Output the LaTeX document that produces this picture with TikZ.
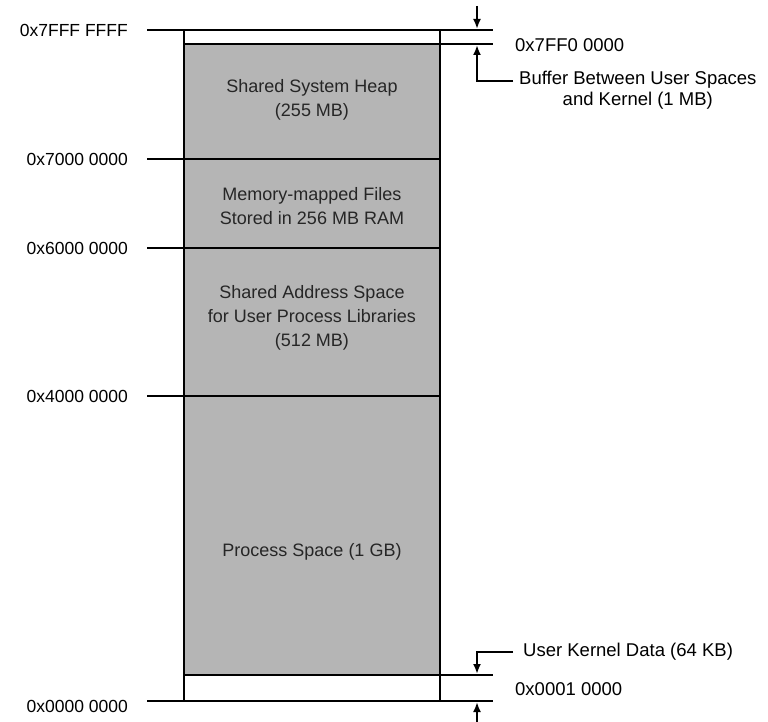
\documentclass[tikz,border=0pt]{standalone}
\usepackage{fontspec}
\setmainfont{Liberation Sans}
\usetikzlibrary{arrows.meta}
\begin{document}
\begin{tikzpicture}[x=1pt,y=-1pt,
  rule/.style={line width=2.4pt},
  lbl/.style={font=\fontsize{17.5}{21}\selectfont, inner sep=0pt},
  rlbl/.style={font=\fontsize{18.5}{21}\selectfont, inner sep=0pt},
  inlbl/.style={font=\fontsize{18}{24}\selectfont, align=center, text=black!85, inner sep=0pt},
  pointer/.style={line width=2pt, -{Latex[length=10pt,width=8pt]}}]
\useasboundingbox (0,0) rectangle (768,722);
% box fill
\fill[gray!58] (184,44) rectangle (440,675);
\draw[rule] (184,30) -- (184,701);
\draw[rule] (440,30) -- (440,701);
% horizontal rules
\draw[rule] (147,30) -- (493,30);
\draw[rule] (184,44) -- (493,44);
\draw[rule] (147,159) -- (440,159);
\draw[rule] (147,248) -- (440,248);
\draw[rule] (147,396) -- (440,396);
\draw[rule] (184,675) -- (493,675);
\draw[rule] (147,701) -- (493,701);
% left labels
\node[lbl, anchor=east] (a7fff) at (128,30) {0x7FFF FFFF};
\node[lbl, anchor=east] (a7000) at (128,159) {0x7000 0000};
\node[lbl, anchor=east] (a6000) at (128,248) {0x6000 0000};
\node[lbl, anchor=east] (a4000) at (128,396) {0x4000 0000};
\node[lbl, anchor=east] (a0000) at (128,706) {0x0000 0000};
% right labels
\node[rlbl, anchor=west] (a7ff0) at (515,45) {0x7FF0 0000};
\node[rlbl, anchor=west] (a0001) at (515,689) {0x0001 0000};
\node[rlbl, anchor=north west, align=center] (buf) at (519,71) {Buffer Between User Spaces\\and Kernel (1 MB)};
\node[rlbl, anchor=west] (ukd) at (523,652) {User Kernel Data (64 KB)};
% inside labels
\node[inlbl] (heap) at (312,100) {Shared System Heap\\(255 MB)};
\node[inlbl] (mmf) at (312,206) {Memory-mapped Files\\Stored in 256 MB RAM};
\node[inlbl] (sas) at (312,318) {Shared Address Space\\for User Process Libraries\\(512 MB)};
\node[inlbl] (proc) at (312,552) {Process Space (1 GB)};
% pointers
\coordinate (t1) at (477,6);
\coordinate (t2) at (477,29);
\coordinate (b1) at (513,81);
\coordinate (b2) at (477,45);
\coordinate (u1) at (513,652);
\coordinate (u2) at (477,674);
\coordinate (d1) at (477,722);
\coordinate (d2) at (477,702);
\draw[pointer] (t1) -- (t2);
\draw[pointer] (b1) -| (b2);
\draw[pointer] (u1) -| (u2);
\draw[pointer] (d1) -- (d2);
\end{tikzpicture}
\end{document}
